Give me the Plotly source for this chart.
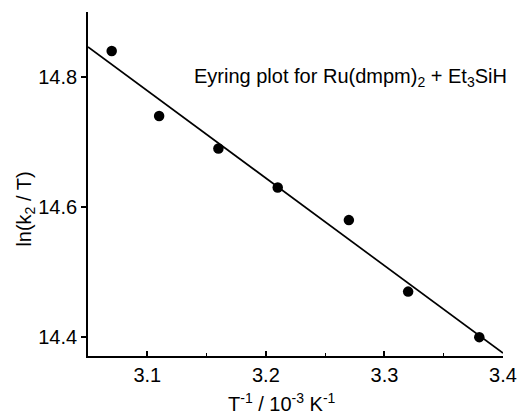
import numpy as np
import plotly.graph_objects as go

inv_T = [3.07, 3.11, 3.16, 3.21, 3.27, 3.32, 3.38]
ln_k2_T = [14.84, 14.74, 14.69, 14.63, 14.58, 14.47, 14.40]
x_range = [3.05, 3.40]
y_range = [14.371, 14.90]
x_ticks = [3.1, 3.2, 3.3, 3.4]
x_minor = [3.15, 3.25, 3.35]
y_ticks = [14.4, 14.6, 14.8]

slope, intercept = np.polyfit(inv_T, ln_k2_T, 1)
fit_x = np.array(x_range)
fit_y = slope * fit_x + intercept

FONT = "Liberation Sans, Arial, sans-serif"

L, R, T, B = 88, 22, 12, 59
PW, PH = 529 - L - R, 415 - T - B

fig = go.Figure()
fig.add_trace(go.Scatter(x=fit_x, y=fit_y, mode="lines",
                         line=dict(color="black", width=1.7), showlegend=False))
fig.add_trace(go.Scatter(x=inv_T, y=ln_k2_T, mode="markers",
                         marker=dict(color="black", size=10.5), showlegend=False))

fig.update_layout(
    width=529, height=415,
    margin=dict(l=L, r=R, t=T, b=B),
    paper_bgcolor="white", plot_bgcolor="white",
    font=dict(family=FONT, size=20, color="black"),
    xaxis=dict(range=x_range, tickvals=x_ticks, ticktext=[f"{v:.1f}" for v in x_ticks],
               showline=True, linecolor="black", linewidth=1.8,
               ticks="inside", ticklen=5, tickwidth=1.5, tickcolor="black",
               minor=dict(ticks="inside", ticklen=3, tickwidth=1.2, tickcolor="black",
                          tickvals=x_minor),
               showgrid=False, zeroline=False, tickfont=dict(size=20)),
    yaxis=dict(range=y_range, tickvals=y_ticks, ticktext=[f"{v:.1f}" for v in y_ticks],
               showline=True, linecolor="black", linewidth=1.8,
               ticks="outside", ticklen=5, tickwidth=1.5, tickcolor="black",
               showgrid=False, zeroline=False, tickfont=dict(size=20)),
)

fig.add_annotation(text="Eyring plot for Ru(dmpm)<sub>2</sub> + Et<sub>3</sub>SiH",
                   xref="x", yref="y", x=3.4, y=14.8, xanchor="right", yanchor="middle",
                   xshift=6, showarrow=False, font=dict(size=20))
fig.add_annotation(text="T<sup>-1</sup> / 10<sup>-3</sup> K<sup>-1</sup>",
                   xref="paper", yref="paper", x=(284 - L) / PW, y=-(402 - (T + PH)) / PH,
                   xanchor="center", yanchor="middle", showarrow=False, font=dict(size=20))
fig.add_annotation(text="ln(k<sub>2</sub> / T)", textangle=-90,
                   xref="paper", yref="paper", x=-(L - 24) / PW, y=((T + PH) - 209) / PH,
                   xanchor="center", yanchor="middle", showarrow=False, font=dict(size=20))

fig.write_html("out.html")
